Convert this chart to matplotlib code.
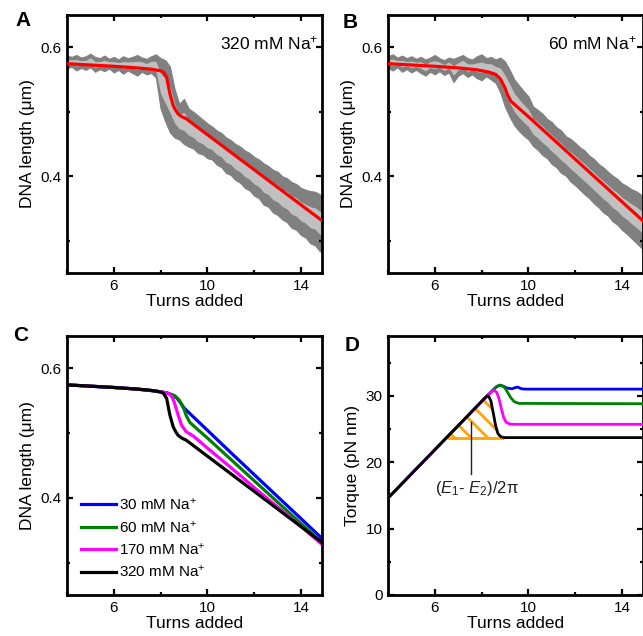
import numpy as np
import matplotlib
matplotlib.use('Agg')
import matplotlib.pyplot as plt
from matplotlib.ticker import MultipleLocator

plt.rcParams['font.family'] = ['Liberation Sans', 'DejaVu Sans']
plt.rcParams['mathtext.fontset'] = 'custom'
plt.rcParams['mathtext.rm'] = 'Liberation Sans'
plt.rcParams['mathtext.it'] = 'Liberation Sans:italic'
plt.rcParams['mathtext.bf'] = 'Liberation Sans:bold'
plt.rcParams['hatch.linewidth'] = 2.0

# ---- measured extension traces (upper / lower edge of the noisy band) ----
turns_grid = np.round(np.arange(4.0, 15.01, 0.2), 1)

a_upper = [0.587, 0.585, 0.588, 0.584, 0.586, 0.590, 0.585, 0.583, 0.587, 0.582,
           0.585, 0.581, 0.586, 0.583, 0.585, 0.588, 0.584, 0.582, 0.586, 0.589,
           0.583, 0.580, 0.570, 0.535, 0.512, 0.520, 0.505, 0.500, 0.494, 0.488,
           0.482, 0.477, 0.471, 0.467, 0.460, 0.456, 0.450, 0.446, 0.440, 0.436,
           0.430, 0.426, 0.420, 0.416, 0.410, 0.407, 0.400, 0.397, 0.391, 0.388,
           0.382, 0.379, 0.377, 0.376, 0.372, 0.368]
a_lower = [0.567, 0.570, 0.564, 0.568, 0.565, 0.569, 0.562, 0.566, 0.563, 0.567,
           0.561, 0.565, 0.559, 0.564, 0.560, 0.556, 0.562, 0.558, 0.560, 0.553,
           0.505, 0.485, 0.468, 0.460, 0.457, 0.450, 0.446, 0.443, 0.436, 0.434,
           0.428, 0.426, 0.418, 0.414, 0.405, 0.402, 0.394, 0.390, 0.382, 0.378,
           0.370, 0.366, 0.356, 0.353, 0.344, 0.340, 0.333, 0.329, 0.320, 0.317,
           0.309, 0.305, 0.296, 0.293, 0.284, 0.281]

b_upper = [0.586, 0.589, 0.584, 0.587, 0.583, 0.586, 0.582, 0.585, 0.581, 0.584,
           0.588, 0.583, 0.580, 0.584, 0.582, 0.585, 0.588, 0.583, 0.581, 0.586,
           0.589, 0.583, 0.585, 0.581, 0.584, 0.578, 0.565, 0.550, 0.541, 0.532,
           0.524, 0.508, 0.503, 0.497, 0.489, 0.484, 0.476, 0.471, 0.462, 0.458,
           0.452, 0.445, 0.440, 0.432, 0.427, 0.419, 0.414, 0.407, 0.401, 0.396,
           0.389, 0.385, 0.380, 0.377, 0.372, 0.366]
b_lower = [0.568, 0.564, 0.569, 0.562, 0.566, 0.561, 0.565, 0.560, 0.556, 0.562,
           0.558, 0.563, 0.557, 0.561, 0.546, 0.556, 0.560, 0.554, 0.558, 0.552,
           0.549, 0.555, 0.550, 0.545, 0.530, 0.508, 0.492, 0.479, 0.470, 0.463,
           0.457, 0.447, 0.441, 0.433, 0.428, 0.419, 0.414, 0.405, 0.401, 0.392,
           0.386, 0.379, 0.372, 0.366, 0.358, 0.352, 0.344, 0.339, 0.330, 0.325,
           0.317, 0.311, 0.304, 0.297, 0.290, 0.284]

# ---- model extension curves ----
ext_30_x = [4, 5, 6, 7, 7.8, 8.3, 8.5, 8.7, 8.85, 9.0, 9.2, 10, 11, 12, 13, 14, 15]
ext_30_y = [0.5745, 0.5725, 0.5705, 0.568, 0.565, 0.562, 0.559, 0.554, 0.547, 0.539,
            0.532, 0.5045, 0.470, 0.436, 0.402, 0.368, 0.334]
ext_60_x = [4, 5, 6, 7, 7.8, 8.3, 8.6, 8.8, 9.0, 9.1, 9.25, 9.45, 9.7, 10, 11, 12, 13, 14, 15]
ext_60_y = [0.5745, 0.5725, 0.5705, 0.568, 0.565, 0.5615, 0.558, 0.551, 0.537, 0.527,
            0.5165, 0.510, 0.502, 0.4925, 0.4595, 0.4265, 0.3935, 0.3605, 0.3275]
ext_170_x = [4, 5, 6, 7, 7.8, 8.2, 8.4, 8.5, 8.6, 8.75, 8.9, 9.1, 9.4, 10, 11, 12, 13, 14, 15]
ext_170_y = [0.5745, 0.5725, 0.5705, 0.568, 0.565, 0.5625, 0.560, 0.555, 0.546, 0.528,
             0.512, 0.502, 0.4955, 0.477, 0.447, 0.416, 0.386, 0.356, 0.325]
ext_320_x = [4, 5, 6, 7, 7.6, 8.0, 8.12, 8.26, 8.4, 8.54, 8.65, 8.75, 8.9, 9.1,
             10, 11, 12, 13, 14, 15]
ext_320_y = [0.5745, 0.5725, 0.5705, 0.568, 0.566, 0.5635, 0.5615, 0.5535, 0.5276, 0.5096,
             0.502, 0.4966, 0.4925, 0.489, 0.4645, 0.4373, 0.4101, 0.3829, 0.3557, 0.3285]

# ---- model torque curves ----
tq_30_x = [4, 8.3, 8.5, 8.65, 8.8, 8.95, 9.1, 9.3, 9.45, 9.55, 9.7, 9.9, 15]
tq_30_y = [14.6, 30.2, 30.9, 31.4, 31.6, 31.4, 31.15, 31.05, 31.25, 31.3, 31.05, 31.0, 31.0]
tq_60_x = [4, 8.3, 8.5, 8.65, 8.8, 8.95, 9.05, 9.15, 9.25, 9.4, 9.6, 15]
tq_60_y = [14.6, 30.2, 30.9, 31.4, 31.6, 31.4, 30.9, 30.3, 29.7, 29.1, 28.85, 28.8]
tq_170_x = [4, 8.3, 8.45, 8.55, 8.65, 8.75, 8.85, 8.95, 9.05, 9.2, 9.4, 15]
tq_170_y = [14.6, 30.2, 30.7, 30.8, 30.5, 29.5, 28.0, 26.7, 26.0, 25.75, 25.7, 25.7]
tq_320_x = [4, 8.15, 8.25, 8.32, 8.4, 8.5, 8.6, 8.7, 8.8, 8.9, 9.0, 15]
tq_320_y = [14.6, 29.7, 30.0, 29.8, 29.2, 27.4, 25.5, 24.3, 23.9, 23.75, 23.7, 23.7]
e2_level = 23.7
e2_start, e2_end = 6.51, 8.95

salts = ['30 mM Na$^{+}$', '60 mM Na$^{+}$', '170 mM Na$^{+}$', '320 mM Na$^{+}$']
salt_colors = ['#0000ff', '#008000', '#ff00ff', '#000000']

W, H = 643, 636
fig = plt.figure(figsize=(W / 100, H / 100), dpi=100)
fig.set_facecolor('white')

def box(left, top, bottom, width=255):
    return [left / W, (H - bottom) / H, width / W, (bottom - top) / H]

def style_axes(ax, ylims, ymajor, yminor):
    ax.set_xlim(4, 14.9)
    ax.set_ylim(*ylims)
    ax.xaxis.set_major_locator(MultipleLocator(4))
    ax.xaxis.set_minor_locator(MultipleLocator(2))
    ax.yaxis.set_major_locator(MultipleLocator(ymajor))
    ax.yaxis.set_minor_locator(MultipleLocator(yminor))
    ax.set_xticks([6, 10, 14])
    ax.tick_params(which='both', direction='in', top=True, right=True, width=1.6, labelsize=11, pad=4)
    ax.tick_params(which='major', length=4.5)
    ax.tick_params(which='minor', length=2.5)
    for s in ax.spines.values():
        s.set_linewidth(2.0)
    ax.set_xlabel('Turns added', fontsize=12.5, labelpad=1)

def noisy_band(ax, upper, lower):
    up = np.array(upper)
    lo = np.array(lower)
    # raw trace (dark) with the smoothed trace (light) in the middle
    ax.fill_between(turns_grid, lo, up, color='#808080', lw=0.8, edgecolor='#808080', zorder=1)
    ax.fill_between(turns_grid, lo + 0.3 * (up - lo), up - 0.3 * (up - lo), color='#c0c0c0', lw=0, zorder=2)

# A
axA = fig.add_axes(box(67, 15, 273))
noisy_band(axA, a_upper, a_lower)
axA.plot(ext_320_x, ext_320_y, color='#ff0000', lw=2.3, zorder=3)
style_axes(axA, (0.25, 0.65), 0.2, 0.1)
axA.set_yticks([0.4, 0.6])
axA.set_yticklabels(['0.4', '0.6'])
axA.set_ylabel('DNA length (μm)', fontsize=12.5)
axA.text(0.985, 0.89, '320 mM Na$^{+}$', transform=axA.transAxes, ha='right', va='center', fontsize=12.5)

# B
axB = fig.add_axes(box(388, 15, 273))
noisy_band(axB, b_upper, b_lower)
axB.plot(ext_60_x, ext_60_y, color='#ff0000', lw=2.3, zorder=3)
style_axes(axB, (0.25, 0.65), 0.2, 0.1)
axB.set_yticks([0.4, 0.6])
axB.set_yticklabels(['0.4', '0.6'])
axB.set_ylabel('DNA length (μm)', fontsize=12.5)
axB.text(0.975, 0.89, '60 mM Na$^{+}$', transform=axB.transAxes, ha='right', va='center', fontsize=12.5)

# C
axC = fig.add_axes(box(67, 336, 595))
ext_x = [ext_30_x, ext_60_x, ext_170_x, ext_320_x]
ext_y = [ext_30_y, ext_60_y, ext_170_y, ext_320_y]
for xs, ys, lab, c in zip(ext_x, ext_y, salts, salt_colors):
    axC.plot(xs, ys, color=c, lw=2.3, label=lab)
style_axes(axC, (0.25, 0.65), 0.2, 0.1)
axC.set_yticks([0.4, 0.6])
axC.set_yticklabels(['0.4', '0.6'])
axC.set_ylabel('DNA length (μm)', fontsize=12.5)
axC.legend(loc='lower left', bbox_to_anchor=(0.055, 0.058), frameon=False, fontsize=11,
           handlelength=2.3, handletextpad=0.2, labelspacing=0.42, borderpad=0, borderaxespad=0)

# D
axD = fig.add_axes(box(388, 336, 595))
tq_x = [tq_30_x, tq_60_x, tq_170_x, tq_320_x]
tq_y = [tq_30_y, tq_60_y, tq_170_y, tq_320_y]
bx = np.array(tq_320_x)
by = np.array(tq_320_y)
axD.fill_between(bx, by, e2_level, where=by > e2_level, interpolate=True,
                 facecolor='none', edgecolor='#ffa500', hatch='\\\\', lw=0, zorder=1)
axD.hlines(e2_level, e2_start, e2_end, color='#ffa500', lw=2.0, zorder=1)
for xs, ys, c in zip(tq_x, tq_y, salt_colors):
    axD.plot(xs, ys, color=c, lw=2.0, zorder=3)
axD.plot([7.54, 7.54], [26.0, 18.2], color='#202020', lw=1.0, zorder=4)
axD.text(7.8, 16.1, '($\\mathit{E}_1$- $\\mathit{E}_2$)/2π', ha='center', va='center', fontsize=12, color='#202020')
style_axes(axD, (0, 39), 10, 5)
axD.set_ylabel('Torque (pN nm)', fontsize=12.5)

# panel letters
for lab, px, py in [('A', 23, 21), ('B', 350, 23), ('C', 21, 335), ('D', 352, 345)]:
    fig.text(px / W, 1 - py / H, lab, fontsize=15, fontweight='bold', ha='center', va='center')

fig.savefig('out.png', dpi=100)
